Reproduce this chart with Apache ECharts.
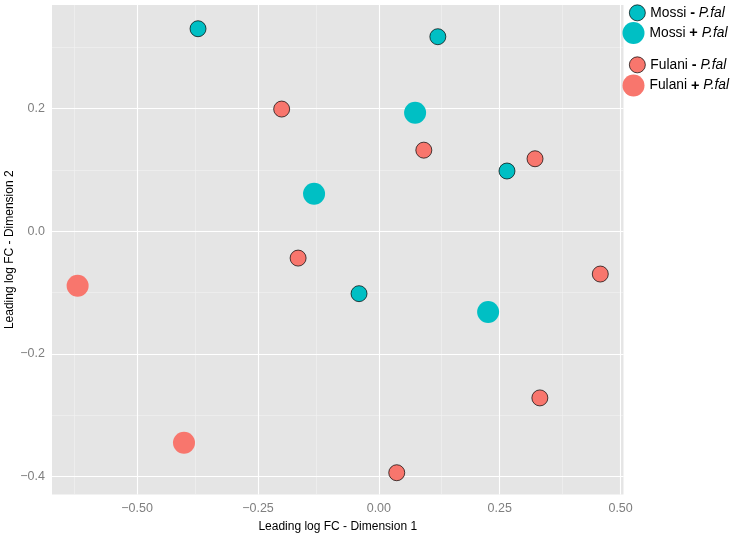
<!DOCTYPE html>
<html>
<head>
<meta charset="utf-8">
<script src="https://cdn.jsdelivr.net/npm/echarts@6/dist/echarts.min.js"></script>
<style>
html,body{margin:0;padding:0;background:#fff;}
#c{width:731px;height:541px;}
</style>
</head>
<body>
<div id="c"></div>
<script>
// ---- data ----
const mossiMinusX  = [-0.374, 0.122, 0.265, -0.041];
const mossiMinusY  = [0.330, 0.317, 0.098, -0.102];
const mossiPlusX   = [0.075, -0.134, 0.226];
const mossiPlusY   = [0.193, 0.061, -0.132];
const fulaniMinusX = [-0.201, 0.093, 0.323, -0.167, 0.458, 0.333, 0.037];
const fulaniMinusY = [0.199, 0.132, 0.118, -0.044, -0.070, -0.272, -0.394];
const fulaniPlusX  = [-0.623, -0.403];
const fulaniPlusY  = [-0.089, -0.345];

const seriesNames = ['Mossi - P.fal', 'Mossi + P.fal', 'Fulani - P.fal', 'Fulani + P.fal'];
const xTicks = [-0.50, -0.25, 0.00, 0.25, 0.50];
const yTicks = [-0.4, -0.2, 0.0, 0.2];
const xMinor = [-0.625, -0.375, -0.125, 0.125, 0.375];
const yMinor = [-0.3, -0.1, 0.1, 0.3];
const xRange = [-0.676, 0.506];
const yRange = [-0.4295, 0.3687];

function pairs(xs, ys) { return xs.map((x, i) => [x, ys[i]]); }

const TEAL = '#00BFC4', SALMON = '#F8766D';
const fmt = (v, d) => (v < 0 ? '\u2212' : '') + Math.abs(v).toFixed(d);
const font = 'Liberation Sans, Arial, Helvetica, sans-serif';

const chart = echarts.init(document.getElementById('c'), null, {renderer: 'canvas'});

const legendRich = {
  n: {fontSize: 13.8, color: '#000', fontFamily: font},
  b: {fontSize: 14.5, color: '#000', fontWeight: 'bold', fontFamily: font},
  i: {fontSize: 13.8, color: '#000', fontStyle: 'italic', fontFamily: font}
};
function legendFmt(name) {
  const parts = name.split(' ');
  return '{n|' + parts[0] + ' }{b|' + parts[1] + '}{i| ' + parts[2] + '}';
}
function mkLegend(name, size, left, cy, bordered) {
  return {
    data: [name], left: left, top: cy - size / 2, padding: 0,
    itemWidth: size, itemHeight: size, itemGap: 0,
    icon: 'circle', selectedMode: false,
    itemStyle: bordered ? {borderColor: '#000', borderWidth: 0.7} : {borderWidth: 0},
    formatter: legendFmt, textStyle: {rich: legendRich}
  };
}

const small = 16, large = 22;
const smallStyle = (c) => ({color: c, borderColor: '#000', borderWidth: 0.7, opacity: 1});
const largeStyle = (c) => ({color: c, opacity: 1});

chart.setOption({
  animation: false,
  backgroundColor: '#fff',
  grid: {left: 52, right: 107.5, top: 5, bottom: 46.5, show: true, backgroundColor: '#E5E5E5', borderWidth: 0, containLabel: false, outerBoundsMode: 'none'},
  legend: [
    mkLegend(seriesNames[0], small, 629, 12.5, true),
    mkLegend(seriesNames[1], large, 622.5, 33, false),
    mkLegend(seriesNames[2], small, 629, 64.5, true),
    mkLegend(seriesNames[3], large, 622.5, 85.5, false)
  ],
  xAxis: {
    type: 'value', min: xRange[0], max: xRange[1],
    name: 'Leading log FC - Dimension 1', nameLocation: 'middle', nameGap: 26, nameMoveOverlap: false,
    nameTextStyle: {fontSize: 12, color: '#000', fontFamily: font},
    axisLine: {show: false},
    axisTick: {show: true, length: 5, lineStyle: {color: '#7F7F7F'}, customValues: xTicks},
    axisLabel: {customValues: xTicks, formatter: v => fmt(v, 2), color: '#7F7F7F', fontSize: 12.5, margin: 8, fontFamily: font},
    splitLine: {show: false}
  },
  yAxis: {
    type: 'value', min: yRange[0], max: yRange[1],
    name: 'Leading log FC - Dimension 2', nameLocation: 'middle', nameGap: 36, nameMoveOverlap: false,
    nameTextStyle: {fontSize: 12, color: '#000', fontFamily: font},
    axisLine: {show: false},
    axisTick: {show: true, length: 5, lineStyle: {color: '#7F7F7F'}, customValues: yTicks},
    axisLabel: {customValues: yTicks, formatter: v => fmt(v, 1), color: '#7F7F7F', fontSize: 12.5, margin: 7, fontFamily: font},
    splitLine: {show: false}
  },
  series: [
    {
      name: '_gridMinor', type: 'scatter', data: [], silent: true,
      markLine: {
        z: 1, silent: true, symbol: 'none', animation: false,
        label: {show: false},
        lineStyle: {color: '#F2F2F2', width: 0.6, type: 'solid'},
        emphasis: {disabled: true},
        data: xMinor.map(v => ({xAxis: v})).concat(yMinor.map(v => ({yAxis: v})))
      }
    },
    {
      name: '_gridMajor', type: 'scatter', data: [], silent: true,
      markLine: {
        z: 1, silent: true, symbol: 'none', animation: false,
        label: {show: false},
        lineStyle: {color: '#FFFFFF', width: 1.1, type: 'solid'},
        emphasis: {disabled: true},
        data: xTicks.map(v => ({xAxis: v})).concat(yTicks.map(v => ({yAxis: v})))
      }
    },
    {name: seriesNames[0], type: 'scatter', z: 10, symbolSize: small, itemStyle: smallStyle(TEAL), data: pairs(mossiMinusX, mossiMinusY)},
    {name: seriesNames[1], type: 'scatter', z: 10, symbolSize: large, itemStyle: largeStyle(TEAL), data: pairs(mossiPlusX, mossiPlusY)},
    {name: seriesNames[2], type: 'scatter', z: 10, symbolSize: small, itemStyle: smallStyle(SALMON), data: pairs(fulaniMinusX, fulaniMinusY)},
    {name: seriesNames[3], type: 'scatter', z: 10, symbolSize: large, itemStyle: largeStyle(SALMON), data: pairs(fulaniPlusX, fulaniPlusY)}
  ]
});
</script>
</body>
</html>
